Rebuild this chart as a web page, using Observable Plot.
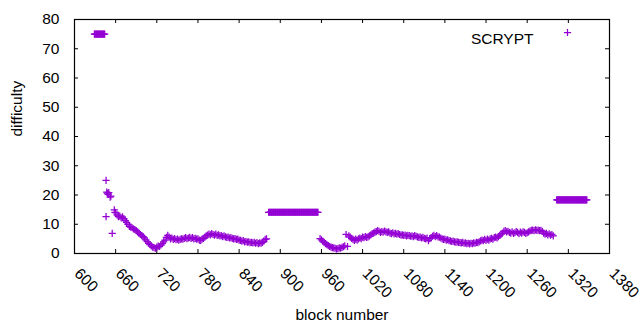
<!DOCTYPE html>
<html><head><meta charset="utf-8">
<script src="https://cdn.jsdelivr.net/npm/d3@7"></script>
<script src="https://cdn.jsdelivr.net/npm/@observablehq/plot@0.6"></script>
<style>
html,body{margin:0;padding:0;background:#fff;}
</style></head><body><div id="chart"></div>
<script>
const seriesName = "SCRYPT";
const xLabel = "block number";
const yLabel = "difficulty";
const xTicks = [600, 660, 720, 780, 840, 900, 960, 1020, 1080, 1140, 1200, 1260, 1320, 1380];
const yTicks = [0, 10, 20, 30, 40, 50, 60, 70, 80];

// scattered early blocks
const earlyBlocks = [646, 646, 647, 648, 649, 650, 652, 653, 655, 658, 659];
const earlyDifficulty = [25.0, 12.6, 21.0, 20.6, 20.2, 20.8, 19.3, 19.6, 6.9, 14.9, 14.1];

// flat runs, one value per block: first block + values
const runAStart = 629;
const runA = [75, 75, 75, 75, 75, 75, 75, 75, 75, 75, 75, 75, 75, 75, 75, 75];
const runCStart = 883;
const runC = [14.1, 14.1, 14.1, 14.1, 14.1, 14.1, 14.1, 14.1, 14.1, 14.1,
  14.1, 14.1, 14.1, 14.1, 14.1, 14.1, 14.1, 14.1, 14.1, 14.1,
  14.1, 14.1, 14.1, 14.1, 14.1, 14.1, 14.1, 14.1, 14.1, 14.1,
  14.1, 14.1, 14.1, 14.1, 14.1, 14.1, 14.1, 14.1, 14.1, 14.1,
  14.1, 14.1, 14.1, 14.1, 14.1, 14.1, 14.1, 14.1, 14.1, 14.1,
  14.1, 14.1, 14.1, 14.1, 14.1, 14.1, 14.1, 14.1, 14.1, 14.1,
  14.1, 14.1, 14.1, 14.1, 14.1, 14.1, 14.1, 14.1, 14.1, 14.1,
  14.1, 14.1, 14.1];
const runEStart = 1303;
const runE = [18.3, 18.3, 18.3, 18.3, 18.3, 18.3, 18.3, 18.3, 18.3, 18.3,
  18.3, 18.3, 18.3, 18.3, 18.3, 18.3, 18.3, 18.3, 18.3, 18.3,
  18.3, 18.3, 18.3, 18.3, 18.3, 18.3, 18.3, 18.3, 18.3, 18.3,
  18.3, 18.3, 18.3, 18.3, 18.3, 18.3, 18.3, 18.3, 18.3, 18.3,
  18.3, 18.3, 18.3, 18.3, 18.3];

// varying runs, read every 2nd block: first block + values
const runBStart = 660;
const runB = [14.0, 13.2, 12.6, 12.8, 12.2, 12.5, 11.9, 11.2, 10.6, 10.0,
  9.3, 9.0, 8.8, 8.4, 8.2, 7.8, 7.4, 7.0, 6.5, 6.1,
  5.8, 5.3, 4.7, 4.1, 3.5, 3.0, 2.6, 2.2, 2.0, 1.8,
  2.2, 2.5, 2.4, 2.9, 3.4, 4.0, 4.6, 5.5, 6.2, 5.6,
  5.0, 5.3, 4.8, 5.1, 4.7, 4.9, 4.6, 4.8, 5.0, 4.9,
  5.2, 5.4, 5.1, 5.3, 5.5, 5.2, 5.4, 5.0, 5.2, 4.9,
  5.0, 4.6, 4.5, 4.9, 5.2, 5.6, 6.0, 6.3, 6.6, 6.4,
  6.8, 6.5, 6.3, 6.6, 6.2, 6.4, 6.0, 6.1, 5.8, 6.0,
  5.7, 5.5, 5.6, 5.3, 5.4, 5.2, 5.0, 5.1, 4.8, 4.9,
  4.6, 4.5, 4.2, 4.4, 4.0, 4.1, 3.9, 4.0, 3.7, 3.8,
  3.6, 3.8, 3.5, 3.7, 3.4, 3.6, 3.5, 3.8, 4.2, 4.8, 5.0];
const runDStart = 958;
const runD = [5.1, 4.7, 4.2, 3.8, 3.4, 3.0, 2.7, 2.4, 2.2, 2.0,
  1.9, 1.8, 1.6, 1.7, 1.9, 1.8, 2.1, 2.3, 2.6, 6.5,
  2.4, 6.0, 5.6, 5.2, 4.8, 4.5, 4.9, 4.6, 5.0, 5.3,
  5.1, 5.6, 5.4, 5.8, 5.5, 5.7, 6.0, 6.4, 6.8, 7.0,
  7.3, 7.5, 7.8, 7.6, 7.2, 7.5, 7.3, 7.7, 7.4, 7.2,
  7.4, 7.0, 6.8, 7.1, 6.7, 6.9, 6.6, 6.8, 6.5, 6.3,
  6.4, 6.2, 6.3, 6.0, 6.2, 6.1, 5.9, 6.0, 5.8, 6.1,
  5.9, 5.7, 5.5, 5.6, 5.3, 5.5, 5.2, 5.0, 5.3, 4.4,
  5.1, 5.4, 5.9, 6.2, 5.8, 6.1, 5.7, 5.6, 5.3, 5.0,
  4.8, 4.9, 4.6, 4.7, 4.4, 4.3, 4.1, 4.2, 4.0, 3.9,
  4.0, 3.8, 3.7, 3.6, 3.8, 3.5, 3.6, 3.4, 3.5, 3.3,
  3.5, 3.4, 3.6, 3.5, 3.8, 3.7, 4.0, 4.3, 4.6, 4.4,
  4.8, 4.5, 4.9, 4.6, 5.0, 5.2, 4.9, 5.4, 5.6, 5.3,
  5.8, 6.2, 6.6, 7.0, 7.6, 7.8, 7.4, 7.6, 7.2, 7.0,
  7.4, 6.9, 7.1, 7.5, 7.2, 6.8, 7.3, 7.0, 7.4, 7.2,
  6.9, 7.1, 7.4, 7.7, 7.9, 8.0, 7.8, 8.1, 7.9, 8.0,
  7.8, 7.9, 7.6, 7.0, 6.6, 6.9, 6.4, 6.7, 6.3, 6.5, 6.0];

const color = "#9400d3";

const rows = [];
earlyBlocks.forEach((b, i) => rows.push({block: b, difficulty: earlyDifficulty[i]}));
[[runAStart, runA, 1], [runBStart, runB, 2], [runCStart, runC, 1], [runDStart, runD, 2], [runEStart, runE, 1]]
  .forEach(([start, vals, step]) => vals.forEach((v, i) => rows.push({block: start + step * i, difficulty: v})));

const plusSymbol = {
  draw(context, size) {
    const r = Math.sqrt(size / Math.PI);
    context.moveTo(-r, 0); context.lineTo(r, 0);
    context.moveTo(0, -r); context.lineTo(0, r);
  }
};

const W = 640, H = 330, mL = 74, mR = 31, mT = 19, mB = 77;
const fw = W - mL - mR, fh = H - mT - mB;
const tick = 4;

const chart = Plot.plot({
  width: W, height: H,
  marginLeft: mL, marginRight: mR, marginTop: mT, marginBottom: mB,
  style: {fontFamily: "'Liberation Sans', Arial, sans-serif", fontSize: "15.5px", color: "#000", background: "#fff", overflow: "visible"},
  x: {domain: [600, 1380], axis: null, label: null},
  y: {domain: [0, 80], label: null},
  marks: [
    Plot.ruleX(xTicks, {x: d => d, insetTop: fh - tick, stroke: "#000"}),
    Plot.ruleX(xTicks, {x: d => d, insetBottom: fh - tick, stroke: "#000"}),
    Plot.ruleY(yTicks, {y: d => d, insetRight: fw - tick, stroke: "#000"}),
    Plot.ruleY(yTicks, {y: d => d, insetLeft: fw - tick, stroke: "#000"}),
    Plot.frame({stroke: "#000", strokeWidth: 1.2}),
    Plot.text(xTicks, {x: d => d, frameAnchor: "bottom", text: d => String(d), rotate: 45, textAnchor: "start", dx: -1, dy: 21, fill: "#000"}),
    Plot.axisY({ticks: yTicks, tickSize: 0, tickPadding: 15, label: null}),
    Plot.dot(rows, {x: "block", y: "difficulty", symbol: plusSymbol, r: 3.6, stroke: color, fill: "none", strokeWidth: 1.25}),
    Plot.text([seriesName], {frameAnchor: "top-right", dx: -76, dy: 13, textAnchor: "end", fill: "#000"}),
    Plot.dot([seriesName], {frameAnchor: "top-right", dx: -42, dy: 13, symbol: plusSymbol, r: 3.6, stroke: color, fill: "none", strokeWidth: 1.25}),
    Plot.text([xLabel], {frameAnchor: "bottom", dy: 66, fill: "#000"}),
    Plot.text([yLabel], {frameAnchor: "left", dx: -57, rotate: -90, fill: "#000"})
  ]
});
document.getElementById("chart").appendChild(chart);
</script>
</body></html>
